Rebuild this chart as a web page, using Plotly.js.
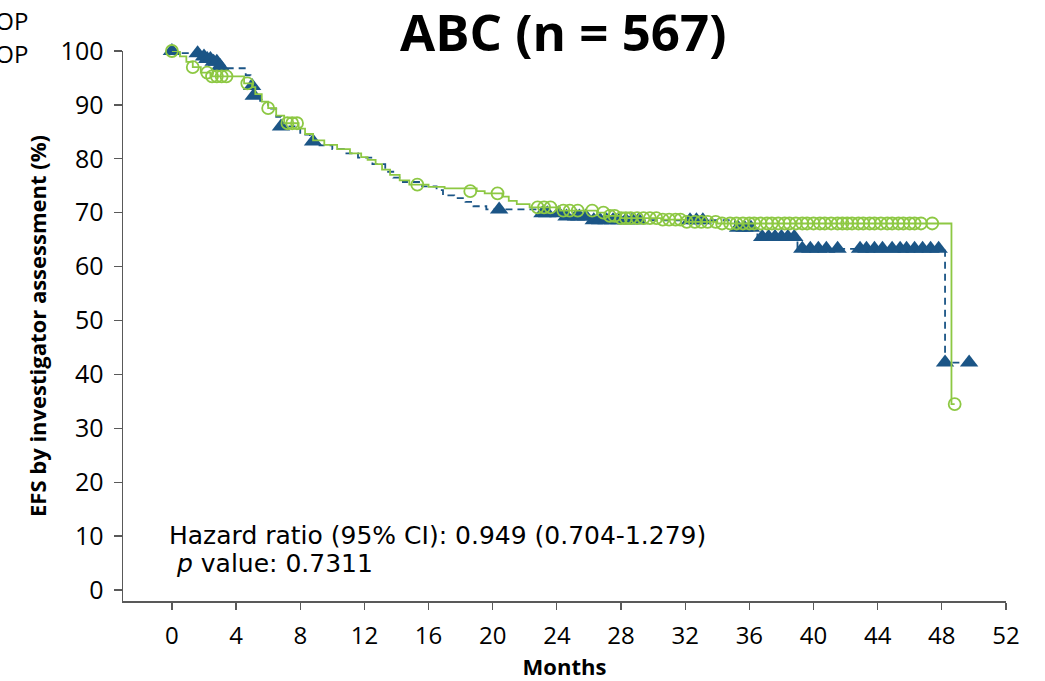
<!DOCTYPE html>
<html>
<head>
<meta charset="utf-8">
<script src="https://cdn.plot.ly/plotly-3.0.1.min.js"></script>
<style>html,body{margin:0;padding:0;background:#fff;}#chart{width:1045px;height:681px;}</style>
</head>
<body>
<div id="chart"></div>
<script>
// Green arm (solid line, open-circle censor marks)
var greenTimes = [0, 0.5, 0.9, 1.3, 1.8, 2.4, 4.5, 5.0, 5.2, 5.6, 6.0, 6.5, 7.0, 7.9, 8.3, 8.8, 9.5, 10.3, 11.1, 11.8, 12.2, 12.7, 13.1, 13.6, 14.2, 14.8, 16.0, 17.0, 19.0, 19.5, 20.6, 21.0, 21.5, 22.3, 24.2, 26.5, 27.0, 28.0, 30.5, 32.0, 34.0, 48.6, 48.8];
var greenSurv  = [100, 99.0, 98.0, 97.0, 96.0, 95.3, 94.0, 93.3, 92.0, 90.6, 89.4, 88.0, 86.6, 85.6, 84.6, 83.4, 82.6, 81.8, 81.0, 80.3, 79.8, 79.0, 78.0, 77.0, 76.0, 75.2, 74.8, 74.5, 74.0, 73.6, 73.0, 72.2, 71.6, 71.0, 70.4, 70.0, 69.4, 69.0, 68.7, 68.3, 68.0, 34.5, 34.5];
var greenCensorT = [0, 1.3, 2.2, 2.5, 2.8, 3.1, 3.4, 4.7, 6.0, 7.2, 7.5, 7.8, 15.3, 18.6, 20.3, 22.8, 23.2, 23.6, 24.4, 24.8, 25.3, 26.2, 26.9, 27.3, 27.6, 28.0, 28.3, 28.6, 29.0, 29.4, 29.8, 30.2, 30.6, 31.0, 31.4, 31.7, 32.1, 32.6, 33.0, 33.4, 33.9, 34.3, 34.8, 35.2, 35.6, 36.0, 36.3, 36.7, 37.1, 37.4, 37.8, 38.2, 38.5, 38.9, 39.3, 39.6, 40.0, 40.4, 40.7, 41.1, 41.5, 41.8, 42.1, 42.4, 42.8, 43.1, 43.5, 43.8, 44.2, 44.6, 44.9, 45.3, 45.6, 46.0, 46.3, 46.7, 47.4, 48.8];
var greenCensorS = [100, 97.0, 96.0, 95.3, 95.3, 95.3, 95.3, 94.0, 89.4, 86.6, 86.6, 86.6, 75.2, 74.0, 73.6, 71.0, 71.0, 71.0, 70.4, 70.4, 70.4, 70.4, 70.0, 69.4, 69.4, 69.0, 69.0, 69.0, 69.0, 69.0, 69.0, 69.0, 68.7, 68.7, 68.7, 68.7, 68.3, 68.3, 68.3, 68.3, 68.3, 68.0, 68.0, 68.0, 68.0, 68.0, 68.0, 68.0, 68.0, 68.0, 68.0, 68.0, 68.0, 68.0, 68.0, 68.0, 68.0, 68.0, 68.0, 68.0, 68.0, 68.0, 68.0, 68.0, 68.0, 68.0, 68.0, 68.0, 68.0, 68.0, 68.0, 68.0, 68.0, 68.0, 68.0, 68.0, 68.0, 34.5];

// Blue arm (dashed line, filled-triangle censor marks)
var blueTimes = [0, 0.6, 1.8, 2.2, 2.6, 3.0, 3.3, 4.6, 4.9, 5.0, 5.1, 5.5, 6.0, 6.5, 6.8, 8.0, 8.6, 9.2, 10.0, 10.8, 11.6, 12.5, 13.3, 13.8, 14.4, 15.6, 16.5, 16.9, 17.6, 18.3, 18.8, 19.6, 22.8, 24.5, 26.3, 35.1, 36.5, 39.0, 48.2, 49.7];
var blueSurv  = [100, 99.6, 99.0, 98.5, 98.0, 97.2, 96.8, 95.5, 94.0, 93.5, 91.7, 90.5, 89.3, 87.8, 86.0, 84.5, 83.2, 82.5, 81.8, 81.0, 80.2, 79.0, 77.6, 76.5, 75.7, 74.9, 74.2, 73.2, 72.7, 72.0, 71.2, 70.6, 69.9, 69.3, 68.6, 67.2, 65.5, 63.3, 42.2, 42.2];
var blueCensorT = [0, 1.6, 2.0, 2.2, 2.4, 2.6, 2.8, 3.0, 5.0, 5.1, 6.8, 8.8, 20.4, 23.1, 23.4, 24.1, 24.6, 25.2, 25.4, 25.8, 26.3, 26.7, 27.1, 27.5, 27.9, 28.3, 28.7, 29.1, 32.3, 32.7, 33.1, 35.3, 35.7, 36.1, 36.8, 37.2, 37.6, 38.0, 38.4, 38.8, 39.3, 39.8, 40.3, 40.8, 41.5, 42.9, 43.3, 43.8, 44.3, 44.9, 45.4, 45.8, 46.3, 46.8, 47.3, 47.8, 48.2, 49.7];
var blueCensorS = [100, 99.6, 99.0, 98.5, 98.5, 98.0, 98.0, 97.2, 93.5, 91.7, 86.0, 83.2, 70.6, 69.9, 69.9, 69.9, 69.3, 69.3, 69.3, 69.3, 68.6, 68.6, 68.6, 68.6, 68.6, 68.6, 68.6, 68.6, 68.6, 68.6, 68.6, 67.2, 67.2, 67.2, 65.5, 65.5, 65.5, 65.5, 65.5, 65.5, 63.3, 63.3, 63.3, 63.3, 63.3, 63.3, 63.3, 63.3, 63.3, 63.3, 63.3, 63.3, 63.3, 63.3, 63.3, 63.3, 42.2, 42.2];

var xTicks = [0, 4, 8, 12, 16, 20, 24, 28, 32, 36, 40, 44, 48, 52];
var yTicks = [0, 10, 20, 30, 40, 50, 60, 70, 80, 90, 100];

var BLUE = '#1B5586';
var GREEN = '#8DC843';
var FONT = 'Open Sans, Liberation Sans, sans-serif';
var NOTE_FONT = 'DejaVu Sans, Open Sans, sans-serif';

var traces = [
  {x: blueTimes, y: blueSurv, type: 'scatter', mode: 'lines', line: {shape: 'hv', color: BLUE, width: 1.8, dash: '7px,5px'}, cliponaxis: false},
  {x: blueCensorT, y: blueCensorS, type: 'scatter', mode: 'markers', marker: {symbol: 'triangle-up', size: 16, color: BLUE}, cliponaxis: false},
  {x: greenTimes, y: greenSurv, type: 'scatter', mode: 'lines', line: {shape: 'hv', color: GREEN, width: 1.8}, cliponaxis: false},
  {x: greenCensorT, y: greenCensorS, type: 'scatter', mode: 'markers', marker: {symbol: 'circle-open', size: 12, color: GREEN, line: {width: 1.8, color: GREEN}}, cliponaxis: false}
];

var layout = {
  width: 1045, height: 681,
  margin: {l: 123, r: 39, t: 51, b: 80},
  paper_bgcolor: '#ffffff', plot_bgcolor: '#ffffff',
  showlegend: false,
  font: {family: FONT, color: '#000000'},
  title: {text: '<b>ABC (n = 567)</b>', font: {family: FONT, size: 51, color: '#000'}, x: 0.539, xanchor: 'center', y: 0.951, yanchor: 'middle', xref: 'container', yref: 'container'},
  xaxis: {
    range: [-3.05, 52], tickvals: xTicks, ticktext: xTicks.map(String),
    showgrid: false, zeroline: false, showline: true, linecolor: '#595959', linewidth: 1.5,
    ticks: 'outside', ticklen: 7, tickwidth: 1.2, tickcolor: '#595959',
    tickfont: {family: FONT, size: 24, color: '#000'}, ticklabelstandoff: 6,
    title: {text: '<b>Months</b>', font: {family: FONT, size: 22, color: '#000'}, standoff: 11}
  },
  yaxis: {
    range: [-2.04, 100], tickvals: yTicks, ticktext: yTicks.map(String),
    showgrid: false, zeroline: false, showline: true, linecolor: '#595959', linewidth: 1.5,
    ticks: 'outside', ticklen: 8, tickwidth: 1.2, tickcolor: '#595959',
    tickfont: {family: FONT, size: 25, color: '#000'}, ticklabelstandoff: 5,
    title: {text: '<b>EFS by investigator assessment (%)</b>', font: {family: FONT, size: 22, color: '#000'}, standoff: 8}
  },
  annotations: [
    {xref: 'paper', yref: 'paper', x: 0.0498, y: 0.119, xanchor: 'left', yanchor: 'middle', showarrow: false, align: 'left',
     text: 'Hazard ratio (95% CI): 0.949 (0.704-1.279)', font: {family: NOTE_FONT, size: 25, color: '#000'}},
    {xref: 'paper', yref: 'paper', x: 0.0498, y: 0.068, xanchor: 'left', yanchor: 'middle', showarrow: false, align: 'left',
     text: ' <i>p</i> value: 0.7311', font: {family: NOTE_FONT, size: 25, color: '#000'}},
    {xref: 'paper', yref: 'paper', x: -0.105, y: 1.055, xanchor: 'right', yanchor: 'middle', showarrow: false,
     text: 'R-CHOP', font: {family: FONT, size: 24, color: '#000'}},
    {xref: 'paper', yref: 'paper', x: -0.105, y: 0.995, xanchor: 'right', yanchor: 'middle', showarrow: false,
     text: 'Pola-R-CHOP', font: {family: FONT, size: 24, color: '#000'}}
  ]
};

Plotly.newPlot('chart', traces, layout, {displayModeBar: false, staticPlot: true});
</script>
</body>
</html>
